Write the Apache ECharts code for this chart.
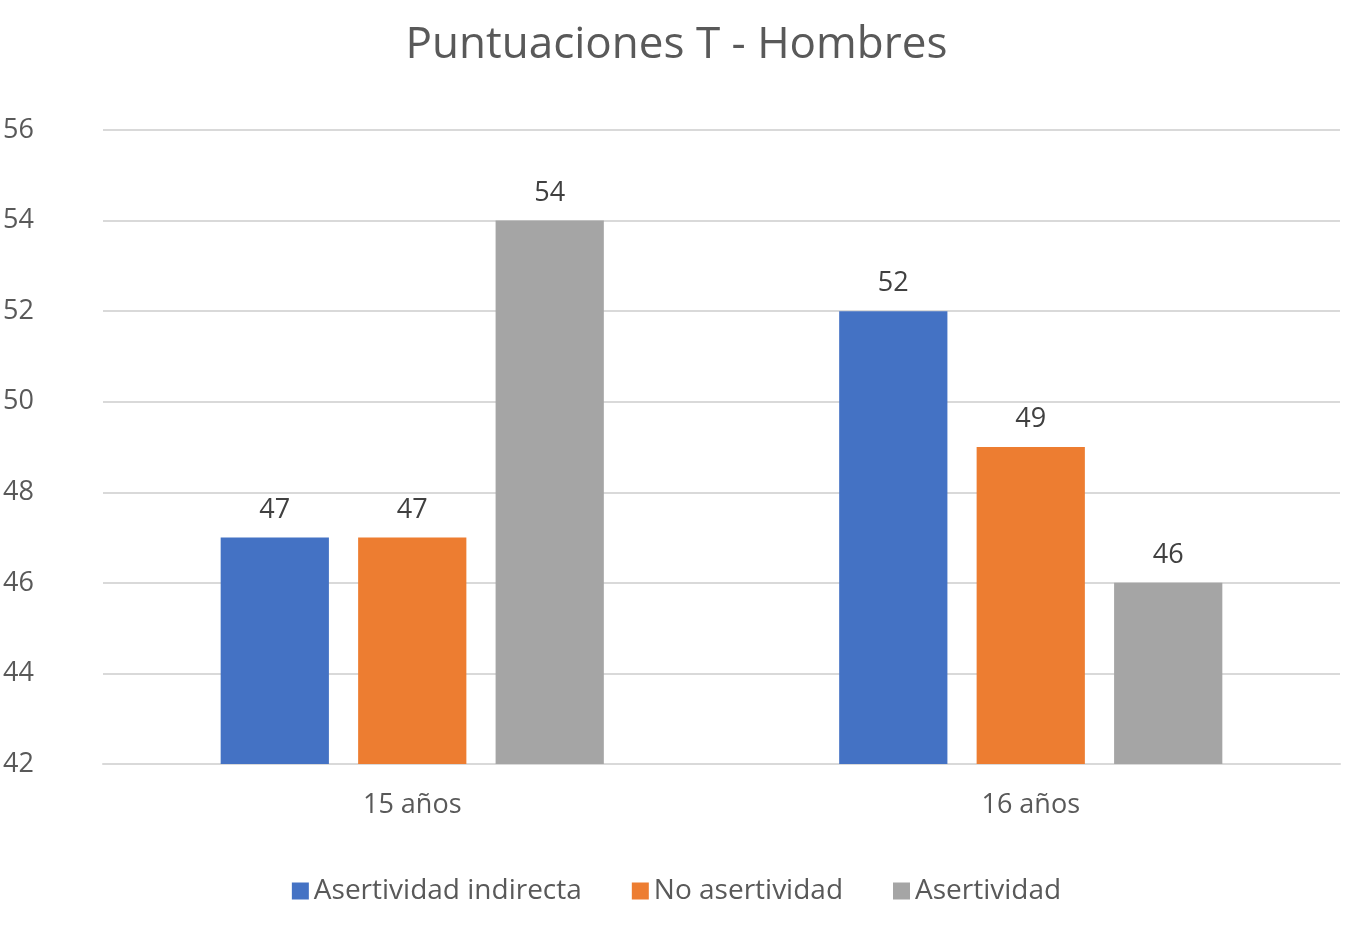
<!DOCTYPE html>
<html>
<head>
<meta charset="utf-8">
<script src="https://cdn.jsdelivr.net/npm/echarts@6/dist/echarts.min.js"></script>
<style>html,body{margin:0;padding:0;background:#fff}#echart{width:1353px;height:946px}</style>
</head>
<body>
<div id="echart"></div>
<script>
// datos del grafico
var categorias = ['15 años', '16 años'];
var nombres = ['Asertividad indirecta', 'No asertividad', 'Asertividad'];
var colores = ['#4472C4', '#ED7D31', '#A5A5A5'];
var asertividadIndirecta = [47, 52];
var noAsertividad = [47, 49];
var asertividad = [54, 46];
var valores = [asertividadIndirecta, noAsertividad, asertividad];

var fuente = 'Open Sans';
var myChart = echarts.init(document.getElementById('echart'));
var series = [];
for (var i = 0; i < nombres.length; i++) {
    series.push({
        name: nombres[i],
        type: 'bar',
        data: valores[i],
        barWidth: '17.5%',
        barGap: '27%',
        itemStyle: { color: colores[i] },
        label: { show: true, position: 'top', distance: 14, color: '#404040', fontSize: 27, fontFamily: fuente }
    });
}
myChart.setOption({
    animation: false,
    title: {
        text: 'Puntuaciones T - Hombres',
        left: 'center', top: 18,
        textStyle: { color: '#595959', fontSize: 44, fontWeight: 'normal', fontFamily: fuente }
    },
    legend: {
        data: nombres,
        bottom: 36,
        itemWidth: 17, itemHeight: 17, itemGap: 50,
        icon: 'rect',
        textStyle: { color: '#595959', fontSize: 28, fontFamily: fuente }
    },
    grid: { left: 77, right: 13, top: 130, bottom: 182 },
    xAxis: {
        type: 'category',
        data: categorias,
        axisLine: { lineStyle: { color: '#D9D9D9', width: 2 } },
        axisTick: { show: false },
        axisLabel: { color: '#595959', fontSize: 27, margin: 28, fontFamily: fuente }
    },
    yAxis: {
        type: 'value',
        min: 42, max: 56, interval: 2,
        axisLine: { show: false },
        axisTick: { show: false },
        splitLine: { lineStyle: { color: '#D9D9D9', width: 2 } },
        axisLabel: { color: '#595959', fontSize: 27, margin: 30, fontFamily: fuente, align: 'left', padding: [0, 0, 0, -70] }
    },
    series: series
});
</script>
</body>
</html>
